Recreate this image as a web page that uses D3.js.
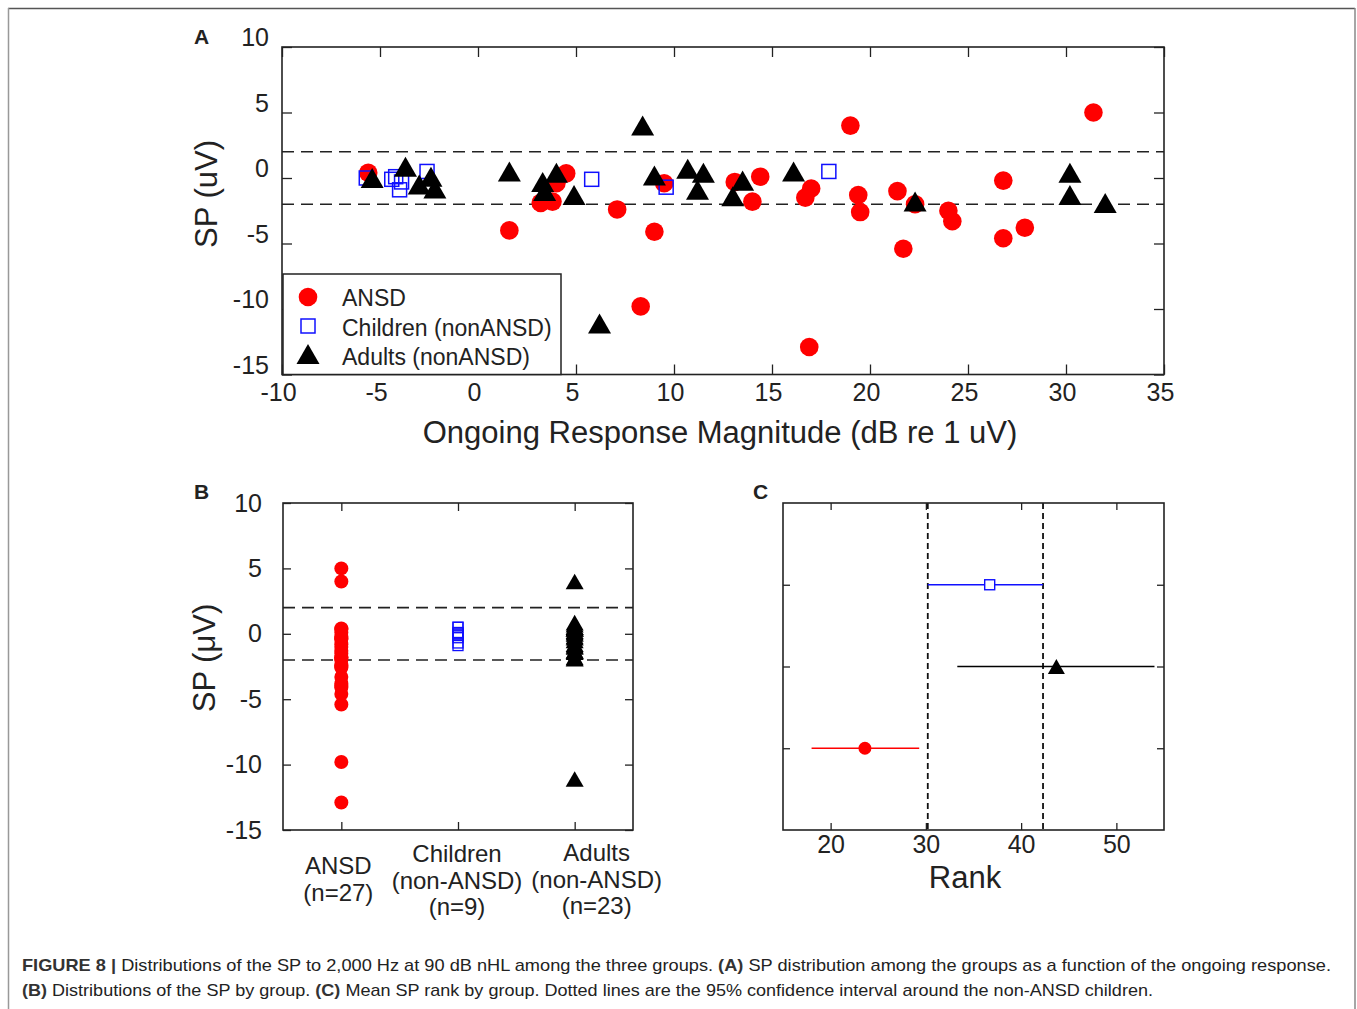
<!DOCTYPE html>
<html>
<head>
<meta charset="utf-8">
<script src="https://cdn.jsdelivr.net/npm/d3@7/dist/d3.min.js"></script>
<style>
body { margin: 0; background: #fff; }
svg text { font-family: "Liberation Sans", Arial, Helvetica, sans-serif; fill: #222; }
</style>
</head>
<body>
<svg id="fig" width="1357" height="1009"></svg>
<script>
// ---- panel A: SP vs ongoing response magnitude ----
var ansdX = [-5.6, 1.6, 3.2, 3.8, 4.0, 4.5, 7.1, 8.3, 9.0, 9.5, 13.1, 14.0, 14.4, 16.7, 17.0, 16.9, 19.0, 19.4, 19.5, 21.4, 21.7, 22.3, 24.0, 24.2, 26.8, 26.8, 27.9, 31.4];
var ansdY = [0.4, -4.0, -1.9, -1.8, -0.4, 0.35, -2.4, -9.8, -4.1, -0.4, -0.3, -1.8, 0.1, -1.5, -0.8, -12.9, 4.0, -1.3, -2.6, -1.0, -5.4, -2.0, -2.5, -3.3, -0.2, -4.6, -3.8, 5.0];
var childX = [-5.7, -4.4, -4.2, -4.0, -3.9, -2.6, 5.8, 9.6, 17.9];
var childY = [0.0, -0.1, 0.1, -0.9, -0.3, 0.5, -0.1, -0.7, 0.5];
var adultX = [-5.4, -3.7, -3.0, -2.4, -2.2, 1.6, 3.3, 3.4, 4.0, 4.9, 6.2, 8.4, 9.0, 10.7, 11.5, 11.2, 13.0, 13.5, 16.1, 22.3, 30.2, 30.2, 32.0];
var adultY = [0.0, 0.85, -0.5, 0.1, -0.8, 0.5, -0.3, -1.0, 0.4, -1.3, -11.1, 4.0, 0.2, 0.7, 0.4, -0.9, -1.4, -0.2, 0.5, -1.8, 0.4, -1.3, -1.9];
var legendLabels = ["ANSD", "Children (nonANSD)", "Adults (nonANSD)"];
var ciLines = [2, -2];

// ---- panel B: categories ----
var groupNames = [["ANSD", "(n=27)"], ["Children", "(non-ANSD)", "(n=9)"], ["Adults", "(non-ANSD)", "(n=23)"]];

// ---- panel C: mean rank with 95% CI ----
var rankRows = [1, 2, 3]; // ANSD, Adults, Children
var rankMean = [23.6, 43.7, 36.7];
var rankLo = [18.0, 33.3, 30.2];
var rankHi = [29.3, 54.0, 42.3];
var rankBounds = [30.2, 42.3];

var svg = d3.select("#fig");
var RED = "#ff0000", BLUE = "#1010ff", INK = "#222";
var plain = function(d) { return String(d); }; // keep ASCII hyphen for negatives

// outer frame
svg.append("line").attr("x1", 8).attr("x2", 1355).attr("y1", 8.5).attr("y2", 8.5).attr("stroke", "#555").attr("stroke-width", 1.5);
svg.append("line").attr("x1", 8.5).attr("x2", 8.5).attr("y1", 8).attr("y2", 1009).attr("stroke", "#999").attr("stroke-width", 1.5);
svg.append("line").attr("x1", 1355).attr("x2", 1355).attr("y1", 8).attr("y2", 1009).attr("stroke", "#888").attr("stroke-width", 1.5);

function tri(w) {
	var h = w * 0.87;
	return "M0," + (-h / 2) + "L" + (w / 2) + "," + (h / 2) + "L" + (-w / 2) + "," + (h / 2) + "Z";
}

function styleAxis(g) {
	g.select(".domain").remove();
	g.selectAll("line").attr("stroke", INK).attr("stroke-width", 1.3);
	g.selectAll("text").style("font-size", "25px").attr("fill", INK);
}

function box(g, x0, x1, y0, y1) {
	g.append("rect").attr("x", x0).attr("y", y0).attr("width", x1 - x0).attr("height", y1 - y0)
		.attr("fill", "none").attr("stroke", INK).attr("stroke-width", 1.6);
}

// ================= Panel A =================
var ax = d3.scaleLinear().domain([-10, 35]).range([282, 1164]);
var ay = d3.scaleLinear().domain([-15, 10]).range([374.5, 47]);
var gA = svg.append("g");

gA.append("g").attr("transform", "translate(0,374.5)")
	.call(d3.axisBottom(ax).tickValues(d3.range(-10, 36, 5)).tickFormat(plain).tickSizeInner(-10).tickSizeOuter(0).tickPadding(9))
	.call(styleAxis).selectAll("text").attr("x", -4);
gA.append("g").attr("transform", "translate(0,47)")
	.call(d3.axisTop(ax).tickValues(d3.range(-10, 36, 5)).tickSizeInner(-10).tickSizeOuter(0).tickFormat(""))
	.call(styleAxis);
gA.append("g").attr("transform", "translate(282,0)")
	.call(d3.axisLeft(ay).tickValues(d3.range(-15, 11, 5)).tickFormat(plain).tickSizeInner(-10).tickSizeOuter(0).tickPadding(13))
	.call(styleAxis).selectAll("text").attr("y", -9.5);
gA.append("g").attr("transform", "translate(1164,0)")
	.call(d3.axisRight(ay).tickValues(d3.range(-15, 11, 5)).tickSizeInner(-10).tickSizeOuter(0).tickFormat(""))
	.call(styleAxis);

gA.selectAll(".ci").data(ciLines).enter().append("line")
	.attr("x1", ax(-10)).attr("x2", ax(35))
	.attr("y1", function(d) { return ay(d); }).attr("y2", function(d) { return ay(d); })
	.attr("stroke", INK).attr("stroke-width", 1.6).attr("stroke-dasharray", "12,7");

gA.selectAll(".ansd").data(ansdX).enter().append("circle")
	.attr("cx", function(d) { return ax(d); })
	.attr("cy", function(d, i) { return ay(ansdY[i]); })
	.attr("r", 9.3).attr("fill", RED);
gA.selectAll(".child").data(childX).enter().append("rect")
	.attr("x", function(d) { return ax(d) - 7; })
	.attr("y", function(d, i) { return ay(childY[i]) - 7; })
	.attr("width", 14).attr("height", 14)
	.attr("fill", "none").attr("stroke", BLUE).attr("stroke-width", 1.5);
gA.selectAll(".adult").data(adultX).enter().append("path")
	.attr("d", tri(23))
	.attr("transform", function(d, i) { return "translate(" + ax(d) + "," + ay(adultY[i]) + ")"; })
	.attr("fill", "#000");

box(gA, 282, 1164, 47, 374.5);

// legend
var lg = gA.append("g");
lg.append("rect").attr("x", 283).attr("y", 274).attr("width", 278).attr("height", 100.5)
	.attr("fill", "#fff").attr("stroke", INK).attr("stroke-width", 1.5);
lg.append("circle").attr("cx", 308).attr("cy", 297).attr("r", 9.3).attr("fill", RED);
lg.append("rect").attr("x", 301).attr("y", 319).attr("width", 14).attr("height", 14)
	.attr("fill", "none").attr("stroke", BLUE).attr("stroke-width", 1.5);
lg.append("path").attr("d", tri(23)).attr("transform", "translate(308,354)").attr("fill", "#000");
lg.selectAll("text").data(legendLabels).enter().append("text")
	.attr("x", 342).attr("y", function(d, i) { return 306 + i * 29.5; })
	.style("font-size", "23px").text(function(d) { return d; });

gA.append("text").attr("x", 720).attr("y", 443).attr("text-anchor", "middle")
	.style("font-size", "31px").text("Ongoing Response Magnitude (dB re 1 uV)");
gA.append("text").attr("transform", "translate(217,194) rotate(-90)").attr("text-anchor", "middle")
	.style("font-size", "31px").text("SP (uV)");
gA.append("text").attr("x", 194).attr("y", 44).style("font-size", "21px").style("font-weight", "bold").text("A");

// ================= Panel B =================
var bx = d3.scaleLinear().domain([0.5, 3.5]).range([283, 633]);
var by = d3.scaleLinear().domain([-15, 10]).range([830, 503]);
var gB = svg.append("g");

gB.append("g").attr("transform", "translate(0,830)")
	.call(d3.axisBottom(bx).tickValues([1, 2, 3]).tickSizeInner(-8).tickSizeOuter(0).tickFormat(""))
	.call(styleAxis);
gB.append("g").attr("transform", "translate(0,503)")
	.call(d3.axisTop(bx).tickValues([1, 2, 3]).tickSizeInner(-8).tickSizeOuter(0).tickFormat(""))
	.call(styleAxis);
gB.append("g").attr("transform", "translate(283,0)")
	.call(d3.axisLeft(by).tickValues(d3.range(-15, 11, 5)).tickFormat(plain).tickSizeInner(-8).tickSizeOuter(0).tickPadding(21))
	.call(styleAxis);
gB.append("g").attr("transform", "translate(633,0)")
	.call(d3.axisRight(by).tickValues(d3.range(-15, 11, 5)).tickSizeInner(-8).tickSizeOuter(0).tickFormat(""))
	.call(styleAxis);

gB.selectAll(".ci").data(ciLines).enter().append("line")
	.attr("x1", bx(0.5)).attr("x2", bx(3.5))
	.attr("y1", function(d) { return by(d); }).attr("y2", function(d) { return by(d); })
	.attr("stroke", INK).attr("stroke-width", 1.6).attr("stroke-dasharray", "12,7");

gB.selectAll(".ansd").data(ansdY).enter().append("circle")
	.attr("cx", bx(1)).attr("cy", function(d) { return by(d); })
	.attr("r", 7).attr("fill", RED);
gB.selectAll(".child").data(childY).enter().append("rect")
	.attr("x", bx(2) - 5).attr("y", function(d) { return by(d) - 5; })
	.attr("width", 10).attr("height", 10)
	.attr("fill", "none").attr("stroke", BLUE).attr("stroke-width", 1.3);
gB.selectAll(".adult").data(adultY).enter().append("path")
	.attr("d", tri(18))
	.attr("transform", function(d) { return "translate(" + bx(3) + "," + by(d) + ")"; })
	.attr("fill", "#000");

box(gB, 283, 633, 503, 830);

var labelShift = [-3, -1, 22];
var labelTop = [874, 862, 861];
groupNames.forEach(function(lines, gi) {
	var t = gB.append("text").attr("text-anchor", "middle").style("font-size", "24px");
	lines.forEach(function(s, li) {
		t.append("tspan").attr("x", bx(gi + 1) + labelShift[gi])
			.attr("y", labelTop[gi] + li * 26.5).text(s);
	});
});

gB.append("text").attr("transform", "translate(215,658) rotate(-90)").attr("text-anchor", "middle")
	.style("font-size", "31px").text("SP (\u03BCV)");
gB.append("text").attr("x", 194).attr("y", 499).style("font-size", "21px").style("font-weight", "bold").text("B");

// ================= Panel C =================
var cx = d3.scaleLinear().domain([15, 55]).range([783, 1164]);
var cy = d3.scaleLinear().domain([0, 4]).range([830, 503]);
var gC = svg.append("g");
var rowColor = [RED, "#000", BLUE];

gC.append("g").attr("transform", "translate(0,830)")
	.call(d3.axisBottom(cx).tickValues([20, 30, 40, 50]).tickSizeInner(-7).tickSizeOuter(0).tickPadding(5))
	.call(styleAxis);
gC.append("g").attr("transform", "translate(0,503)")
	.call(d3.axisTop(cx).tickValues([20, 30, 40, 50]).tickSizeInner(-7).tickSizeOuter(0).tickFormat(""))
	.call(styleAxis);
gC.append("g").attr("transform", "translate(783,0)")
	.call(d3.axisLeft(cy).tickValues(rankRows).tickSizeInner(-7).tickSizeOuter(0).tickFormat(""))
	.call(styleAxis);
gC.append("g").attr("transform", "translate(1164,0)")
	.call(d3.axisRight(cy).tickValues(rankRows).tickSizeInner(-7).tickSizeOuter(0).tickFormat(""))
	.call(styleAxis);

gC.selectAll(".bound").data(rankBounds).enter().append("line")
	.attr("x1", function(d) { return cx(d); }).attr("x2", function(d) { return cx(d); })
	.attr("y1", 503).attr("y2", 830)
	.attr("stroke", "#111").attr("stroke-width", 1.8).attr("stroke-dasharray", "6,4");

gC.selectAll(".err").data(rankRows).enter().append("line")
	.attr("x1", function(d, i) { return cx(rankLo[i]); })
	.attr("x2", function(d, i) { return cx(rankHi[i]); })
	.attr("y1", function(d) { return cy(d); }).attr("y2", function(d) { return cy(d); })
	.attr("stroke", function(d, i) { return rowColor[i]; }).attr("stroke-width", 1.7);

gC.append("circle").attr("cx", cx(rankMean[0])).attr("cy", cy(rankRows[0])).attr("r", 6.5).attr("fill", RED);
gC.append("path").attr("d", tri(17))
	.attr("transform", "translate(" + cx(rankMean[1]) + "," + cy(rankRows[1]) + ")").attr("fill", "#000");
gC.append("rect").attr("x", cx(rankMean[2]) - 5).attr("y", cy(rankRows[2]) - 5)
	.attr("width", 10).attr("height", 10).attr("fill", "#fff").attr("stroke", BLUE).attr("stroke-width", 1.4);

box(gC, 783, 1164, 503, 830);

gC.append("text").attr("x", 965).attr("y", 888).attr("text-anchor", "middle")
	.style("font-size", "31px").text("Rank");
gC.append("text").attr("x", 753).attr("y", 499).style("font-size", "21px").style("font-weight", "bold").text("C");

// ================= caption =================
var cap1 = svg.append("text").attr("x", 22).attr("y", 971).style("font-size", "17px").attr("fill", "#444");
cap1.append("tspan").style("font-weight", "bold").attr("fill", "#333").text("FIGURE 8 | ");
cap1.append("tspan").text("Distributions of the SP to 2,000 Hz at 90 dB nHL among the three groups. ");
cap1.append("tspan").style("font-weight", "bold").attr("fill", "#333").text("(A)");
cap1.append("tspan").text(" SP distribution among the groups as a function of the ongoing response.");
var cap2 = svg.append("text").attr("x", 22).attr("y", 996).style("font-size", "17px").attr("fill", "#444");
cap2.append("tspan").style("font-weight", "bold").attr("fill", "#333").text("(B)");
cap2.append("tspan").text(" Distributions of the SP by group. ");
cap2.append("tspan").style("font-weight", "bold").attr("fill", "#333").text("(C)");
cap2.append("tspan").text(" Mean SP rank by group. Dotted lines are the 95% confidence interval around the non-ANSD children.");
cap1.attr("textLength", 1309).attr("lengthAdjust", "spacingAndGlyphs");
cap2.attr("textLength", 1131).attr("lengthAdjust", "spacingAndGlyphs");
</script>
</body>
</html>
